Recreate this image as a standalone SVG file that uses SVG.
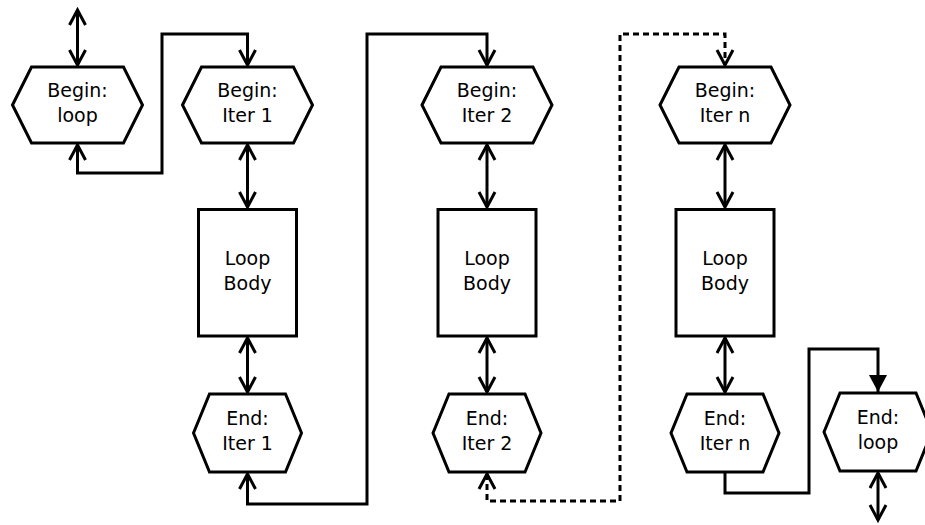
<svg xmlns="http://www.w3.org/2000/svg" width="925" height="525" viewBox="0 0 925 525">
  <style>
    .shape { fill: #fff; stroke: #000; stroke-width: 3; stroke-linejoin: miter; }
    .label { font-family: "DejaVu Sans", "Liberation Sans", sans-serif; font-size: 19px; fill: #000; text-anchor: middle; }
    .wire { fill: none; stroke: #000; stroke-width: 3; stroke-linejoin: miter; }
    .both { marker-start: url(#open); marker-end: url(#open); }
    .dashed { stroke-dasharray: 6 4; }
  </style>
  <defs>
    <marker id="open" markerUnits="userSpaceOnUse" orient="auto-start-reverse" overflow="visible" refX="0" refY="0" markerWidth="1" markerHeight="1">
      <path d="M-15,-8 L0,0 L-15,8" fill="none" stroke="#000" stroke-width="3" stroke-linejoin="miter"/>
    </marker>
    <marker id="solid" markerUnits="userSpaceOnUse" orient="auto" overflow="visible" refX="0" refY="0" markerWidth="1" markerHeight="1">
      <path d="M-17,-9 L0,0 L-17,9 Z" fill="#000" stroke="none"/>
    </marker>
  </defs>
  <rect width="925" height="525" fill="#fff"/>

  <g id="connectors">
    <line class="wire both" x1="77.5" y1="10" x2="77.5" y2="65"/>
    <polyline class="wire both" points="77.5,145 77.5,173 162,173 162,34 247.5,34 247.5,65"/>
    <line class="wire both" x1="247.5" y1="145" x2="247.5" y2="207"/>
    <line class="wire both" x1="247.5" y1="338" x2="247.5" y2="392"/>
    <polyline class="wire both" points="247.5,474 247.5,504 367,504 367,34 487,34 487,65"/>
    <line class="wire both" x1="487" y1="145" x2="487" y2="207"/>
    <line class="wire both" x1="487" y1="338" x2="487" y2="392"/>
    <polyline class="wire both dashed" points="487,474 487,501 620,501 620,34 725,34 725,65"/>
    <line class="wire both" x1="725" y1="145" x2="725" y2="207"/>
    <line class="wire both" x1="725" y1="338" x2="725" y2="392"/>
    <polyline class="wire" marker-end="url(#solid)" points="725,472 725,493 809,493 809,349 878,349 878,392"/>
    <line class="wire both" x1="878" y1="473" x2="878" y2="520"/>
  </g>

  <g id="begin-loop">
    <polygon class="shape" points="12.5,105 31.5,67 123.5,67 142.5,105 123.5,143 31.5,143"/>
    <text class="label" x="77.5" y="97">Begin:</text>
    <text class="label" x="77.5" y="122">loop</text>
  </g>

  <g id="begin-iter-1">
    <polygon class="shape" points="182.5,105 201.5,67 293.5,67 312.5,105 293.5,143 201.5,143"/>
    <text class="label" x="247.5" y="97">Begin:</text>
    <text class="label" x="247.5" y="122">Iter 1</text>
  </g>
  <g id="body-1">
    <rect class="shape" x="198.5" y="209.5" width="98" height="126.5"/>
    <text class="label" x="247.5" y="265">Loop</text>
    <text class="label" x="247.5" y="290">Body</text>
  </g>
  <g id="end-iter-1">
    <polygon class="shape" points="193.5,433 209.5,394 285.5,394 301.5,433 285.5,472 209.5,472"/>
    <text class="label" x="247.5" y="425">End:</text>
    <text class="label" x="247.5" y="450">Iter 1</text>
  </g>

  <g id="begin-iter-2">
    <polygon class="shape" points="422,105 441,67 533,67 552,105 533,143 441,143"/>
    <text class="label" x="487" y="97">Begin:</text>
    <text class="label" x="487" y="122">Iter 2</text>
  </g>
  <g id="body-2">
    <rect class="shape" x="438" y="209.5" width="98" height="126.5"/>
    <text class="label" x="487" y="265">Loop</text>
    <text class="label" x="487" y="290">Body</text>
  </g>
  <g id="end-iter-2">
    <polygon class="shape" points="433,433 449,394 525,394 541,433 525,472 449,472"/>
    <text class="label" x="487" y="425">End:</text>
    <text class="label" x="487" y="450">Iter 2</text>
  </g>

  <g id="begin-iter-n">
    <polygon class="shape" points="660,105 679,67 771,67 790,105 771,143 679,143"/>
    <text class="label" x="725" y="97">Begin:</text>
    <text class="label" x="725" y="122">Iter n</text>
  </g>
  <g id="body-n">
    <rect class="shape" x="676" y="209.5" width="98" height="126.5"/>
    <text class="label" x="725" y="265">Loop</text>
    <text class="label" x="725" y="290">Body</text>
  </g>
  <g id="end-iter-n">
    <polygon class="shape" points="671,433 687,394 763,394 779,433 763,472 687,472"/>
    <text class="label" x="725" y="425">End:</text>
    <text class="label" x="725" y="450">Iter n</text>
  </g>

  <g id="end-loop">
    <polygon class="shape" points="824,432 840,393 916,393 932,432 916,471 840,471"/>
    <text class="label" x="878" y="424">End:</text>
    <text class="label" x="878" y="449">loop</text>
  </g>
</svg>
